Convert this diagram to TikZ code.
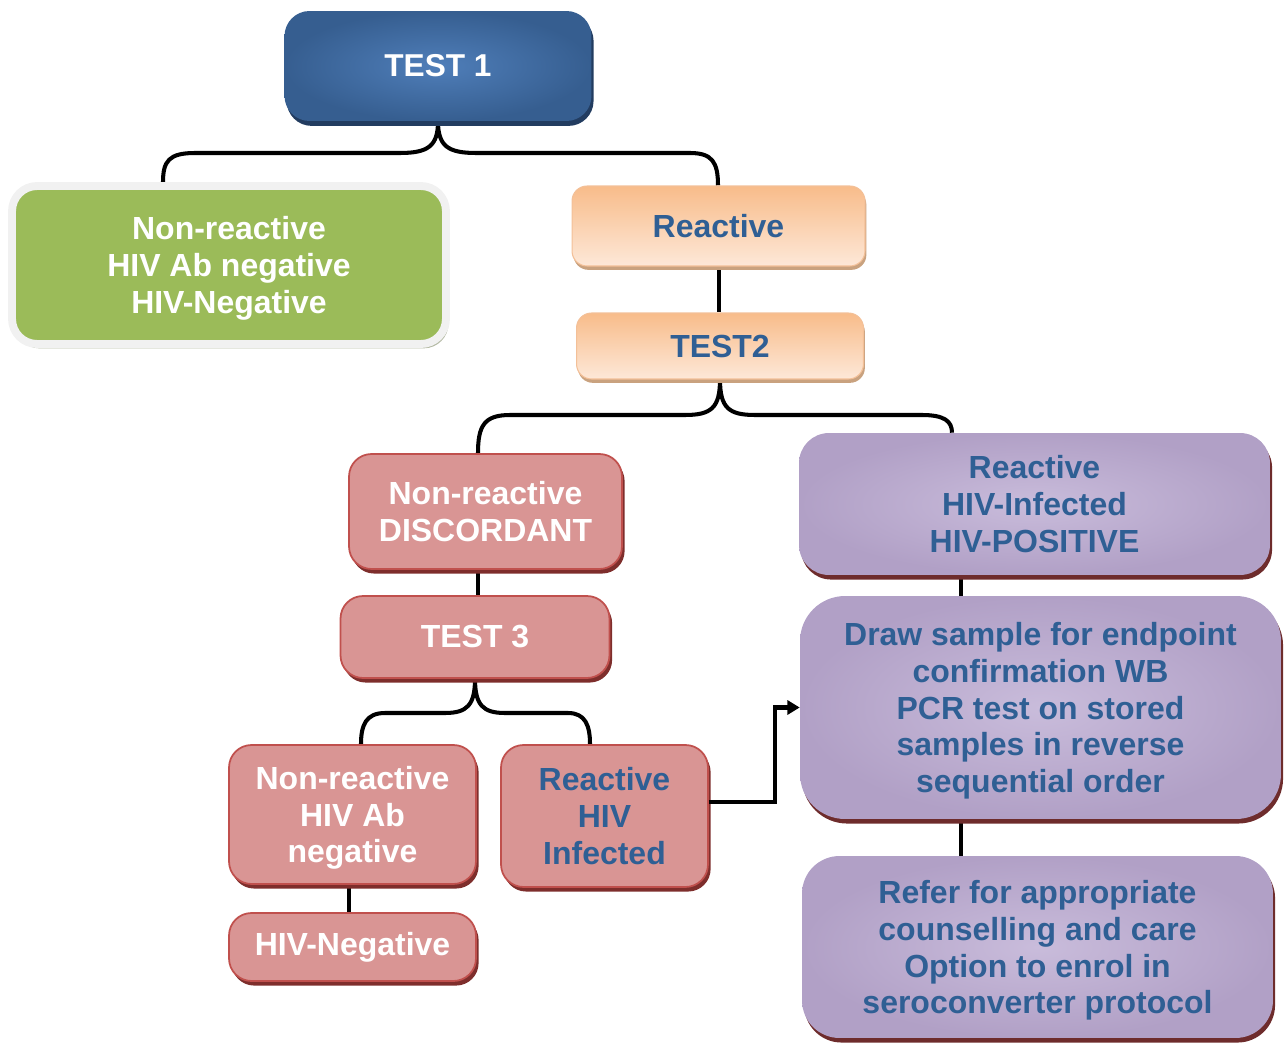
\documentclass[tikz,border=0pt]{standalone}
\usepackage{fontspec}
\setmainfont{Liberation Sans}
\usetikzlibrary{shadows,arrows.meta,backgrounds}

\definecolor{blueIn}{HTML}{4F7EB9}
\definecolor{blueOut}{HTML}{365E90}
\definecolor{blueSh}{HTML}{223C60}
\definecolor{greenF}{HTML}{9BBB59}
\definecolor{ringC}{HTML}{F1F1F1}
\definecolor{greenSh}{HTML}{B4BAA4}
\definecolor{peachTop}{HTML}{F8BC8A}
\definecolor{peachBot}{HTML}{FDE8D8}
\definecolor{peachLine}{HTML}{F3C098}
\definecolor{peachSh}{HTML}{C9A27F}
\definecolor{pinkF}{HTML}{D99594}
\definecolor{pinkD}{HTML}{C0504D}
\definecolor{pinkSh}{HTML}{7E2E2C}
\definecolor{purpIn}{HTML}{C9BCDB}
\definecolor{purpOut}{HTML}{B1A0C6}
\definecolor{purpSh}{HTML}{6E2C2C}
\definecolor{txtBlue}{HTML}{2F5F94}

% last line of a block set without its descender depth, so blocks sit centred on their capitals
\newcommand\flatline[1]{\raisebox{0pt}[\height][0pt]{#1}}

\tikzset{
  conn/.style={line width=2.3pt},
  box/.style={align=center, inner sep=2pt,
    font=\fontsize{18.2}{21}\selectfont\bfseries},
  bluebox/.style={box, rounded corners=0.5cm, inner color=blueIn, outer color=blueOut,
    text=white, font=\fontsize{18}{22}\selectfont\bfseries,
    drop shadow={shadow xshift=1.2pt, shadow yshift=-2.8pt, fill=blueSh, opacity=1}},
  greenbox/.style={box, rounded corners=0.5cm, fill=greenF, draw=ringC, line width=4.5pt,
    text=white,
    drop shadow={shadow xshift=1.5pt, shadow yshift=-2.5pt, fill=greenSh, opacity=1}},
  peachbox/.style={box, rounded corners=0.3cm, top color=peachTop, bottom color=peachBot,
    draw=peachLine, line width=0.6pt, text=txtBlue,
    drop shadow={shadow xshift=0.8pt, shadow yshift=-2.2pt, fill=peachSh, opacity=1}},
  pinkbox/.style={box, rounded corners=0.45cm, fill=pinkF, draw=pinkD, line width=1pt,
    text=white,
    drop shadow={shadow xshift=1.5pt, shadow yshift=-2.6pt, fill=pinkSh, opacity=1}},
  purplebox/.style={box, rounded corners=0.75cm, inner color=purpIn, outer color=purpOut,
    text=txtBlue,
    drop shadow={shadow xshift=1.2pt, shadow yshift=-2.6pt, fill=purpSh, opacity=1}},
}

\begin{document}
\begin{tikzpicture}[x=0.02cm, y=-0.02cm]
\useasboundingbox (0,0) rectangle (1285,1044);

% first test and its two outcomes
\node[bluebox, minimum width=6.14cm, minimum height=2.2cm] (t1) at (438,66) {TEST 1};
\node[greenbox, minimum width=8.68cm, minimum height=3.16cm] (green) at (229,265)
  {Non-reactive\\HIV Ab negative\\\flatline{HIV-Negative}};
\node[peachbox, minimum width=5.86cm, minimum height=1.6cm] (react) at (718.5,226) {Reactive};
\node[peachbox, minimum width=5.74cm, minimum height=1.32cm] (test2) at (720,346) {TEST2};

% second test outcomes
\node[pinkbox, minimum width=5.46cm, minimum height=2.3cm] (disc) at (485.5,511.5)
  {Non-reactive\\DISCORDANT};
\node[purplebox, rounded corners=0.6cm, minimum width=9.42cm, minimum height=2.84cm] (pos) at (1034.5,504)
  {Reactive\\HIV-Infected\\HIV-POSITIVE};
\node[purplebox, rounded corners=0.9cm, minimum width=9.62cm, minimum height=4.46cm] (wb) at (1040.5,707.5)
  {Draw sample for endpoint\\confirmation WB\\PCR test on stored\\samples in reverse\\\flatline{sequential order}};
\node[purplebox, minimum width=9.42cm, minimum height=3.64cm] (refer) at (1037.5,947)
  {Refer for appropriate\\counselling and care\\Option to enrol in\\\flatline{seroconverter protocol}};

% third test and its outcomes
\node[pinkbox, minimum width=5.38cm, minimum height=1.64cm] (test3) at (475,637) {TEST 3};
\node[pinkbox, minimum width=4.94cm, minimum height=2.78cm] (nrab) at (352.5,814.5)
  {Non-reactive\\HIV Ab\\\flatline{negative}};
\node[pinkbox, minimum width=4.14cm, minimum height=2.84cm, text=txtBlue] (rinf) at (604.5,816)
  {Reactive\\HIV\\Infected};
\node[pinkbox, minimum width=4.94cm, minimum height=1.36cm] (hneg) at (352.5,947) {HIV-Negative};

\begin{scope}[on background layer]
  % brace below TEST 1
  \draw[conn] (t1.south) .. controls (438,146) and (428,153) .. (400,153) -- (195,153)
    .. controls (169,153) and (163,161) .. (163,0 |- green.north);
  \draw[conn] (t1.south) .. controls (438,146) and (448,153) .. (476,153) -- (690,153)
    .. controls (712,153) and (718,162) .. (718,0 |- react.north);
  \draw[conn] (719,0 |- react.south) -- (719,0 |- test2.north);

  % brace below TEST2
  \draw[conn] (test2.south) .. controls (720,408) and (711,415) .. (685,415) -- (510,415)
    .. controls (484,415) and (478,426) .. (478,0 |- disc.north);
  \draw[conn] (test2.south) .. controls (720,408) and (729,415) .. (755,415) -- (922,415)
    .. controls (944,415) and (952,421) .. (952,0 |- pos.north);

  % chains
  \draw[conn] (478,0 |- disc.south) -- (478,0 |- test3.north);
  \draw[conn] (961,0 |- pos.south) -- (961,0 |- wb.north);
  \draw[conn] (961,0 |- wb.south) -- (961,0 |- refer.north);
  \draw[conn] (349,0 |- nrab.south) -- (349,0 |- hneg.north);

  % brace below TEST 3
  \draw[conn] (test3.south) .. controls (475,705) and (467,713) .. (445,713) -- (385,713)
    .. controls (366,713) and (361,725) .. (361,0 |- nrab.north);
  \draw[conn] (test3.south) .. controls (475,705) and (483,713) .. (505,713) -- (568,713)
    .. controls (585,713) and (590,725) .. (590,0 |- rinf.north);
\end{scope}

% reactive result sent on for confirmation
\draw[conn, -{Triangle[length=7pt, width=8pt]}] (rinf.east) ++(0,-14) -- ++(66,0) |- (wb.west);
\end{tikzpicture}
\end{document}
